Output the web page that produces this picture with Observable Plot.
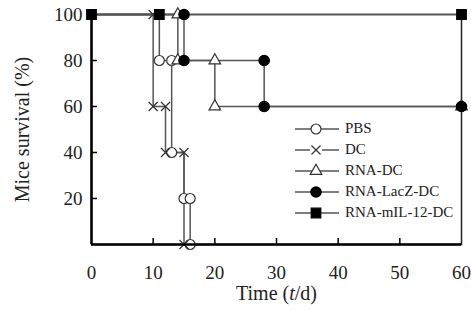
<!DOCTYPE html>
<html><head><meta charset="utf-8">
<script src="https://cdn.jsdelivr.net/npm/d3@7"></script>
<script src="https://cdn.jsdelivr.net/npm/@observablehq/plot@0.6"></script>
<style>
body{margin:0;background:#fff;}
#wrap{position:relative;width:471px;height:310px;font-family:"Liberation Serif","Times New Roman",serif;color:#222;}
#legend{position:absolute;left:295px;top:118px;}
.row{display:flex;align-items:center;height:21px;font-size:15px;}
.row svg{margin-right:6px;}
</style></head><body><div id="wrap"></div>
<script>
// ---- data ----
const seriesNames = ["PBS", "DC", "RNA-DC", "RNA-LacZ-DC", "RNA-mIL-12-DC"];
const startDay = 0, startSurvival = 100;
const pbsDays      = [11, 13, 13, 15, 16, 16];
const pbsSurvival  = [80, 80, 40, 20, 20, 0];
const dcDays       = [10, 10, 12, 12, 15, 15];
const dcSurvival   = [100, 60, 60, 40, 40, 0];
const rnaDays      = [14, 14, 20, 20, 60];
const rnaSurvival  = [100, 80, 80, 60, 60];
const lacZDays     = [15, 15, 28, 28, 60];
const lacZSurvival = [100, 80, 80, 60, 60];
const il12Days     = [0, 11, 60];
const il12Survival = [100, 100, 100];
const xTicks = [0, 10, 20, 30, 40, 50, 60];
const yTicks = [20, 40, 60, 80, 100];
const xInnerTicks = [10, 20, 30, 40, 50];
const yInnerTicks = [20, 40, 60, 80];

const seriesDays = [pbsDays, dcDays, rnaDays, lacZDays, il12Days];
const seriesSurv = [pbsSurvival, dcSurvival, rnaSurvival, lacZSurvival, il12Survival];
const style = {
  "PBS":           {symbol: "circle",   r: 5,   fill: "white", stroke: "#333"},
  "DC":            {symbol: "times",    r: 4.2, fill: "none",  stroke: "#333"},
  "RNA-DC":        {symbol: "triangle", r: 4.3, fill: "white", stroke: "#333"},
  "RNA-LacZ-DC":   {symbol: "circle",   r: 5.2, fill: "#000",  stroke: "#000"},
  "RNA-mIL-12-DC": {symbol: "square",   r: 5.4, fill: "#000",  stroke: "#000"}
};

const markers = seriesNames.map((s, i) => seriesDays[i].map((d, j) => ({series: s, day: d, survival: seriesSurv[i][j]})));
const lines = markers.map(m => [{series: m[0].series, day: startDay, survival: startSurvival}, ...m]).flat();

const font = "'Liberation Serif','Times New Roman',serif";
const chart = Plot.plot({
  width: 471, height: 310,
  marginLeft: 91, marginRight: 10, marginTop: 14, marginBottom: 66,
  style: {fontFamily: font, fontSize: "19px", color: "#222", background: "white"},
  x: {domain: [0, 60]},
  y: {domain: [0, 100]},
  marks: [
    Plot.frame({stroke: "#222", strokeWidth: 1.5}),
    Plot.line(lines, {x: "day", y: "survival", z: "series", curve: "step-after", stroke: "#555", strokeWidth: 1.5}),
    ...seriesNames.map((s, i) => Plot.dot(markers[i], {x: "day", y: "survival", ...style[s], strokeWidth: 1.2})),
    Plot.ruleX([0], {stroke: "#000", strokeWidth: 2.5}),
    Plot.ruleY([0], {stroke: "#000", strokeWidth: 2.5}),
    Plot.axisX(xTicks, {tickSize: 0, tickPadding: 21, fontSize: 19, label: null}),
    Plot.axisX(xInnerTicks, {tickSize: -6, text: null, label: null, stroke: "#000", strokeWidth: 1.5}),
    Plot.axisY(yTicks, {tickSize: 0, tickPadding: 9, fontSize: 19, label: null}),
    Plot.axisY(yInnerTicks, {tickSize: -6, text: null, label: null, stroke: "#000", strokeWidth: 1.5}),
    Plot.text(["Time (t/d)"], {frameAnchor: "bottom", textAnchor: "middle", dy: 55, fontSize: 20, fill: "#222", className: "xtitle"}),
    Plot.text(["Mice survival (%)"], {frameAnchor: "left", textAnchor: "middle", dx: -69, rotate: -90, fontSize: 20, fill: "#222"})
  ]
});
const wrap = document.getElementById("wrap");
wrap.appendChild(chart);

// italic "t" in the x title
chart.querySelectorAll("text").forEach(t => {
  if (t.textContent === "Time (t/d)") {
    t.innerHTML = 'Time (<tspan font-style="italic">t</tspan>/d)';
  }
});

// legend overlay
const legend = document.createElement("div");
legend.id = "legend";
const symPath = {circle: d3.symbolCircle, times: d3.symbolTimes, triangle: d3.symbolTriangle, square: d3.symbolSquare};
seriesNames.forEach(s => {
  const st = style[s];
  const row = document.createElement("div");
  row.className = "row";
  const p = d3.symbol(symPath[st.symbol], Math.PI * st.r * st.r)();
  row.innerHTML = `<svg width="44" height="16"><line x1="0" x2="44" y1="8" y2="8" stroke="#555" stroke-width="1.5"/>` +
    `<path transform="translate(21,8)" d="${p}" fill="${st.fill === 'none' ? 'white' : st.fill}" stroke="${st.stroke}" stroke-width="1.2"/>` +
    (st.symbol === "times" ? `<rect x="15" y="2" width="12" height="12" fill="white"/><path transform="translate(21,8)" d="${p}" fill="none" stroke="${st.stroke}" stroke-width="1.2"/>` : "") +
    `</svg><span>${s}</span>`;
  legend.appendChild(row);
});
wrap.appendChild(legend);
</script></body></html>
